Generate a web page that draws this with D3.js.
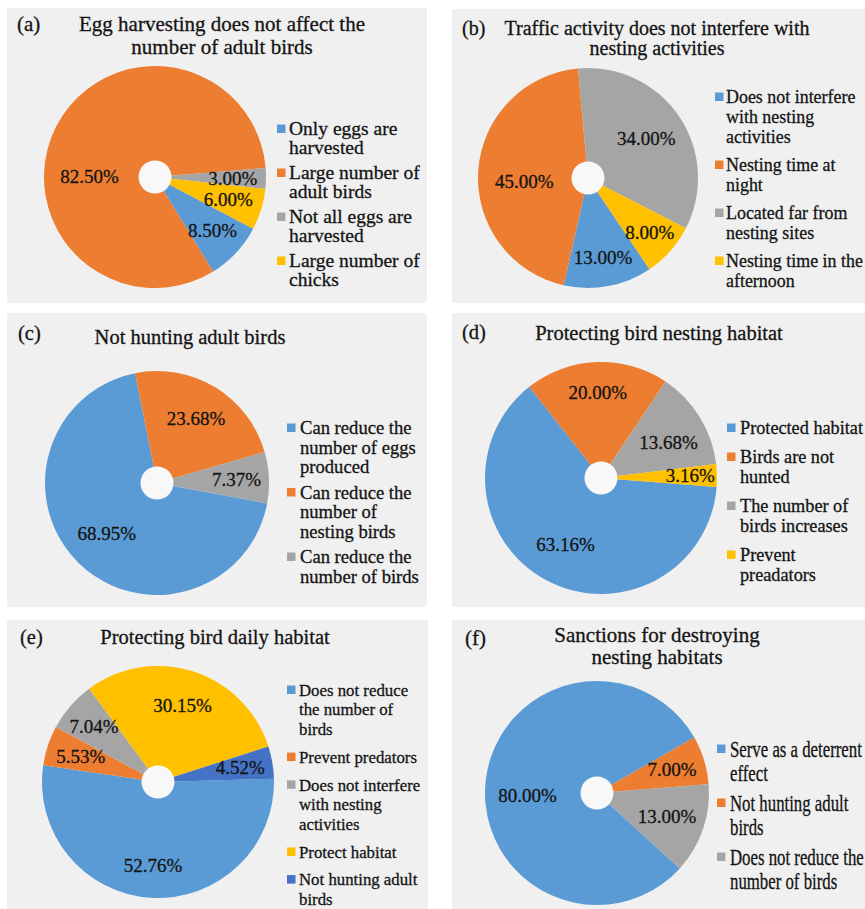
<!DOCTYPE html>
<html>
<head>
<meta charset="utf-8">
<script src="https://cdn.jsdelivr.net/npm/d3@7"></script>
<style>
  body { margin: 0; background: #fff; }
  text { font-family: 'Liberation Serif', 'Times New Roman', serif; fill: #141414; stroke: #141414; stroke-width: 0.3px; }
</style>
</head>
<body>
<div id="chart"></div>
<script>
/** Chart data **/
const tags = ['(a)', '(b)', '(c)', '(d)', '(e)', '(f)'];
const titles = [
  ['Egg harvesting does not affect the', 'number of adult birds'],
  ['Traffic activity does not interfere with', 'nesting activities'],
  ['Not hunting adult birds'],
  ['Protecting bird nesting habitat'],
  ['Protecting bird daily habitat'],
  ['Sanctions for destroying', 'nesting habitats'],
];

const catA = [['Only eggs are', 'harvested'], ['Large number of', 'adult birds'], ['Not all eggs are', 'harvested'], ['Large number of', 'chicks']];
const valA = [8.5, 82.5, 3.0, 6.0];

const catB = [['Does not interfere', 'with nesting', 'activities'], ['Nesting time at', 'night'], ['Located far from', 'nesting sites'], ['Nesting time in the', 'afternoon']];
const valB = [13.0, 45.0, 34.0, 8.0];

const catC = [['Can reduce the', 'number of eggs', 'produced'], ['Can reduce the', 'number of', 'nesting birds'], ['Can reduce the', 'number of birds']];
const valC = [68.95, 23.68, 7.37];

const catD = [['Protected habitat'], ['Birds are not', 'hunted'], ['The number of', 'birds increases'], ['Prevent', 'preadators']];
const valD = [63.16, 20.0, 13.68, 3.16];

const catE = [['Does not reduce', 'the number of', 'birds'], ['Prevent predators'], ['Does not interfere', 'with nesting', 'activities'], ['Protect habitat'], ['Not hunting adult', 'birds']];
const valE = [52.76, 5.53, 7.04, 30.15, 4.52];

const catF = [['Serve as a deterrent', 'effect'], ['Not hunting adult', 'birds'], ['Does not reduce the', 'number of birds']];
const valF = [80.0, 7.0, 13.0];

const palette = ['#5b9bd5', '#ed7d31', '#a5a5a5', '#ffc000', '#4472c4'];

/** Layout (positions and sizes, per panel) **/
const width = 865;
const height = 909;
const layout = [
  { box: [7, 8, 420, 295], cx: 155, cy: 177, r: 111, start: 117.8,
    labelR: [0.71, 0.59, 0.70, 0.69], labelAngle: [null, 270, null, null],
    tag: [17, 24], title: [222, 24, 23], titleSize: 21,
    legend: { mx: 277, tx: 289, y: 129, fs: 19.5, sx: 1.0, lh: 19, gap: 6 } },
  { box: [452, 9, 413, 294], cx: 588, cy: 178, r: 110, start: 146,
    labelR: [0.74, 0.58, 0.64, 0.75], labelAngle: [null, 267, null, null],
    tag: [462, 28], title: [657, 28, 20], titleSize: 20,
    legend: { mx: 715, tx: 726, y: 97, fs: 19.5, sx: 0.92, lh: 20, gap: 8 } },
  { box: [7, 313, 420, 294], cx: 157, cy: 483, r: 112, start: 100.5,
    labelR: [0.64, 0.67, 0.71], labelAngle: [null, null, null],
    tag: [18, 333], title: [190, 337, 22], titleSize: 20.5,
    legend: { mx: 287, tx: 300, y: 428, fs: 19, sx: 0.98, lh: 19.5, gap: 6 } },
  { box: [452, 313, 413, 294], cx: 601, cy: 478, r: 116, start: 94.4,
    labelR: [0.65, 0.74, 0.66, 0.77], labelAngle: [null, null, 62, null],
    tag: [462, 332], title: [659, 333, 22], titleSize: 20.5,
    legend: { mx: 727, tx: 740, y: 428, fs: 19, sx: 0.96, lh: 20, gap: 9 } },
  { box: [7, 620, 421, 289], cx: 158, cy: 782, r: 116, start: 88.4,
    labelR: [0.72, 0.70, 0.73, 0.69, 0.72], labelAngle: [null, null, null, null, null],
    tag: [20, 637], title: [215, 637, 22], titleSize: 20.5,
    legend: { mx: 287, tx: 299, y: 690, fs: 17.5, sx: 0.96, lh: 19.7, gap: 8 } },
  { box: [452, 620, 413, 289], cx: 597, cy: 793, r: 112, start: 132.3,
    labelR: [0.62, 0.70, 0.66], labelAngle: [268, null, null],
    tag: [465, 638], title: [657, 635, 22], titleSize: 21,
    legend: { mx: 717, tx: 730, y: 749, fs: 23, sx: 0.73, lh: 24, gap: 6 } },
];

const panels = [
  [catA, valA], [catB, valB], [catC, valC], [catD, valD], [catE, valE], [catF, valF],
];

const svg = d3
  .select('#chart')
  .append('svg')
  .attr('width', width)
  .attr('height', height);

const pct = (v) => d3.format('.2f')(v) + '%';
const rad = (deg) => (deg * Math.PI) / 180;

panels.forEach(([cats, vals], i) => {
  const L = layout[i];
  const g = svg.append('g');

  // panel background
  g.append('rect')
    .attr('x', L.box[0])
    .attr('y', L.box[1])
    .attr('width', L.box[2])
    .attr('height', L.box[3])
    .attr('fill', '#f0f0f0');

  // tag + title
  g.append('text')
    .attr('x', L.tag[0])
    .attr('y', L.tag[1])
    .attr('dy', '0.33em')
    .style('font-size', L.titleSize + 'px')
    .text(tags[i]);
  g.selectAll('.title')
    .data(titles[i])
    .join('text')
    .attr('class', 'title')
    .attr('x', L.title[0])
    .attr('y', (d, j) => L.title[1] + j * L.title[2])
    .attr('dy', '0.33em')
    .attr('text-anchor', 'middle')
    .style('font-size', L.titleSize + 'px')
    .text((d) => d);

  // pie
  const s = rad(L.start);
  const pie = d3.pie().sort(null).value((d) => d).startAngle(s).endAngle(s + 2 * Math.PI);
  const arcs = pie(vals);
  const arc = d3.arc().innerRadius(0).outerRadius(L.r);
  const color = d3.scaleOrdinal().domain(d3.range(vals.length)).range(palette);

  const pg = g.append('g').attr('transform', `translate(${L.cx},${L.cy})`);
  pg.selectAll('path')
    .data(arcs)
    .join('path')
    .attr('d', arc)
    .attr('fill', (d) => color(d.index));
  pg.append('circle').attr('r', 16.5).attr('fill', '#f8f8f8');

  // value labels
  pg.selectAll('.lbl')
    .data(arcs)
    .join('text')
    .attr('class', 'lbl')
    .attr('transform', (d) => {
      const a = L.labelAngle[d.index] != null ? rad(L.labelAngle[d.index]) : (d.startAngle + d.endAngle) / 2;
      const rr = L.labelR[d.index] * L.r;
      return `translate(${rr * Math.sin(a)},${-rr * Math.cos(a)})`;
    })
    .attr('dy', '0.34em')
    .attr('text-anchor', 'middle')
    .style('font-size', '19px')
    .text((d) => pct(d.data));

  // legend
  const lg = L.legend;
  let y = lg.y;
  cats.forEach((lines, k) => {
    g.append('rect')
      .attr('x', lg.mx)
      .attr('y', y - 4.5)
      .attr('width', 8.5)
      .attr('height', 8.5)
      .attr('fill', color(k));
    lines.forEach((line, j) => {
      g.append('text')
        .attr('transform', `translate(${lg.tx},${y + j * lg.lh}) scale(${lg.sx},1)`)
        .attr('dy', '0.33em')
        .style('font-size', lg.fs + 'px')
        .text(line);
    });
    y += lines.length * lg.lh + lg.gap;
  });
});
</script>
</body>
</html>
